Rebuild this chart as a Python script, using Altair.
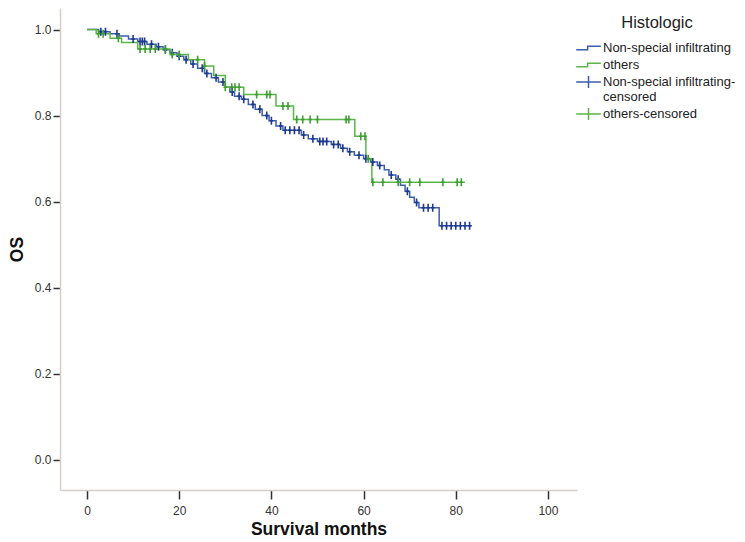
import altair as alt
import pandas as pd

FONT = "Liberation Sans"

groups = ["Non-special infiltrating", "others"]
legend_entries = ["Non-special infiltrating", "others",
                  "Non-special infiltrating-censored", "others-censored"]

# Kaplan-Meier step points (months, survival)
blue_times = [0, 2.5, 5, 7, 9, 11, 13, 15, 16.5, 18, 19.5, 21, 22.5, 24, 25.5,
              27, 28.5, 30, 31, 32, 33.5, 35, 36.5, 38, 39.5, 41, 42.5, 46.5,
              48, 50, 53, 55, 56.5, 58, 60, 61.5, 63, 64.5, 65.5, 67, 68, 69,
              70, 71, 72, 76.4]
blue_surv = [1.0, 0.995, 0.990, 0.985, 0.978, 0.972, 0.966, 0.960, 0.953,
             0.946, 0.938, 0.930, 0.920, 0.910, 0.898, 0.888, 0.878, 0.866,
             0.855, 0.845, 0.838, 0.826, 0.815, 0.800, 0.788, 0.776, 0.766,
             0.755, 0.746, 0.740, 0.733, 0.724, 0.716, 0.708, 0.700, 0.692,
             0.684, 0.674, 0.662, 0.652, 0.638, 0.624, 0.610, 0.598, 0.586,
             0.544]
blue_end = 83.5
blue_censor = [3, 4, 6.5, 10, 11.5, 12, 12.5, 14, 15.5, 17, 18.5, 20, 21.5,
               23, 25, 26, 28, 29.5, 31.5, 33, 34, 36, 37.5, 39, 40, 42, 43,
               44, 45, 46, 47, 49, 50.5, 51.2, 52, 53.5, 54.5, 55.5, 57, 59,
               60.5, 62, 63.5, 66, 67.5, 69.5, 71.5, 73, 74, 75, 77, 78, 79,
               80, 81, 82, 83]

green_times = [0, 2, 5, 7.5, 11, 18, 22, 25.5, 27.5, 30, 34, 41, 44.8, 58.1,
               60.5, 61.8]
green_surv = [1.0, 0.99, 0.98, 0.97, 0.955, 0.942, 0.93, 0.915, 0.893, 0.866,
              0.849, 0.822, 0.791, 0.752, 0.70, 0.645]
green_end = 82
green_censor = [2.5, 3.5, 6.8, 11.5, 12.6, 13.7, 14.8, 17, 18.5, 20, 24, 25.5,
                30, 31.4, 32.1, 33, 36.8, 39, 39.7, 42.5, 43.6, 45.5, 46.8,
                48.4, 50, 56.2, 56.8, 59.4, 60.3, 61, 62, 64.2, 67.5, 70, 72.2,
                77.2, 80.3, 81.2]

line_colors = ["#3d5eaa", "#5bb548"]
mark_colors = ["#1e3a8f", "#3f9f34"]
legend_colors = ["#3d5eaa", "#5bb548", "#3d5eaa", "#5bb548"]

STEP = "M-1.45,0.22H-0.1V-0.22H1.45"
CROSS_LEG = "M-1.45,0H1.45M0,-0.7V0.7"
CROSS_PLOT = "M-0.45,0H0.45M0,-1V1"


def level_at(times, surv, t):
    v = surv[0]
    for tt, ss in zip(times, surv):
        if tt <= t:
            v = ss
    return v


line_rows, cens_rows = [], []
spec = [(blue_times, blue_surv, blue_end, blue_censor),
        (green_times, green_surv, green_end, green_censor)]
for i, (ts, ss, end, cs) in enumerate(spec):
    for t, s in zip(ts, ss):
        line_rows.append({"t": t, "s": s, "g": groups[i], "c": line_colors[i]})
    line_rows.append({"t": end, "s": ss[-1], "g": groups[i], "c": line_colors[i]})
    for t in cs:
        cens_rows.append({"t": t, "s": level_at(ts, ss, t),
                          "series": groups[i] + "-censored",
                          "c": mark_colors[i], "ord": i})

lines_df = pd.DataFrame(line_rows)
cens_df = pd.DataFrame(cens_rows)

xs = alt.Scale(domain=[-5.86, 106.3], nice=False, zero=False)
ys = alt.Scale(domain=[-0.07, 1.05], nice=False, zero=False)

x_enc = alt.X("t:Q", scale=xs, title="Survival months",
              axis=alt.Axis(values=[0, 20, 40, 60, 80, 100], grid=False,
                            tickSize=9, tickWidth=1.5, tickColor="#333",
                            domainColor="#d3cec8", domainWidth=1.5,
                            labelFontSize=12, labelColor="#333", labelFont=FONT,
                            labelPadding=6, titleFontSize=17.5, titleFont=FONT,
                            titleFontWeight="bold", titleColor="#111",
                            titlePadding=4))
y_enc = alt.Y("s:Q", scale=ys, title="OS",
              axis=alt.Axis(values=[0, 0.2, 0.4, 0.6, 0.8, 1.0], format=".1f",
                            grid=False, tickSize=7, tickWidth=1.5,
                            tickColor="#333", domainColor="#d3cec8",
                            domainWidth=1.5, labelFontSize=12, labelColor="#333",
                            labelFont=FONT, labelPadding=2, titleFontSize=17.5,
                            titleFont=FONT, titleFontWeight="bold",
                            titleColor="#111", titlePadding=8))

lines = alt.Chart(lines_df).mark_line(interpolate="step-after", strokeWidth=1.5).encode(
    x=x_enc, y=y_enc, color=alt.Color("c:N", scale=None), detail="g:N")

cens = alt.Chart(cens_df).mark_point(shape=CROSS_PLOT, size=64, filled=False,
                                     strokeWidth=1.6, opacity=1).encode(
    x=x_enc, y=y_enc, color=alt.Color("c:N", scale=None))

leg = alt.Legend(title="Histologic", orient="none", legendX=519, legendY=7,
                 titleFont=FONT, titleFontSize=16.5, titleFontWeight="normal",
                 titleColor="#222", titleAnchor="middle", titlePadding=7,
                 labelFont=FONT, labelFontSize=13, labelColor="#222",
                 symbolSize=289, symbolStrokeWidth=1.5, rowPadding=0,
                 labelOffset=5, padding=0, labelLimit=300,
                 labelExpr="datum.label == 'Non-special infiltrating-censored' ? ['Non-special infiltrating-', 'censored'] : datum.label")

legend_layer = alt.Chart(cens_df).mark_point(size=0, filled=False, opacity=1).encode(
    x=alt.X("t:Q", scale=xs), y=alt.Y("s:Q", scale=ys),
    color=alt.Color("series:N", scale=alt.Scale(domain=legend_entries, range=legend_colors), legend=leg),
    shape=alt.Shape("series:N", scale=alt.Scale(domain=legend_entries, range=[STEP, STEP, CROSS_LEG, CROSS_LEG]), legend=leg),
)

chart = alt.layer(lines, cens, legend_layer).properties(
    width=517, height=482,
    autosize=alt.AutoSizeParams(type="none"),
    padding={"left": 52, "top": 0, "right": 160, "bottom": 50},
    background="white",
).configure_view(stroke=None)

chart.save("out.html", embed_options={"renderer": "svg", "actions": False})
